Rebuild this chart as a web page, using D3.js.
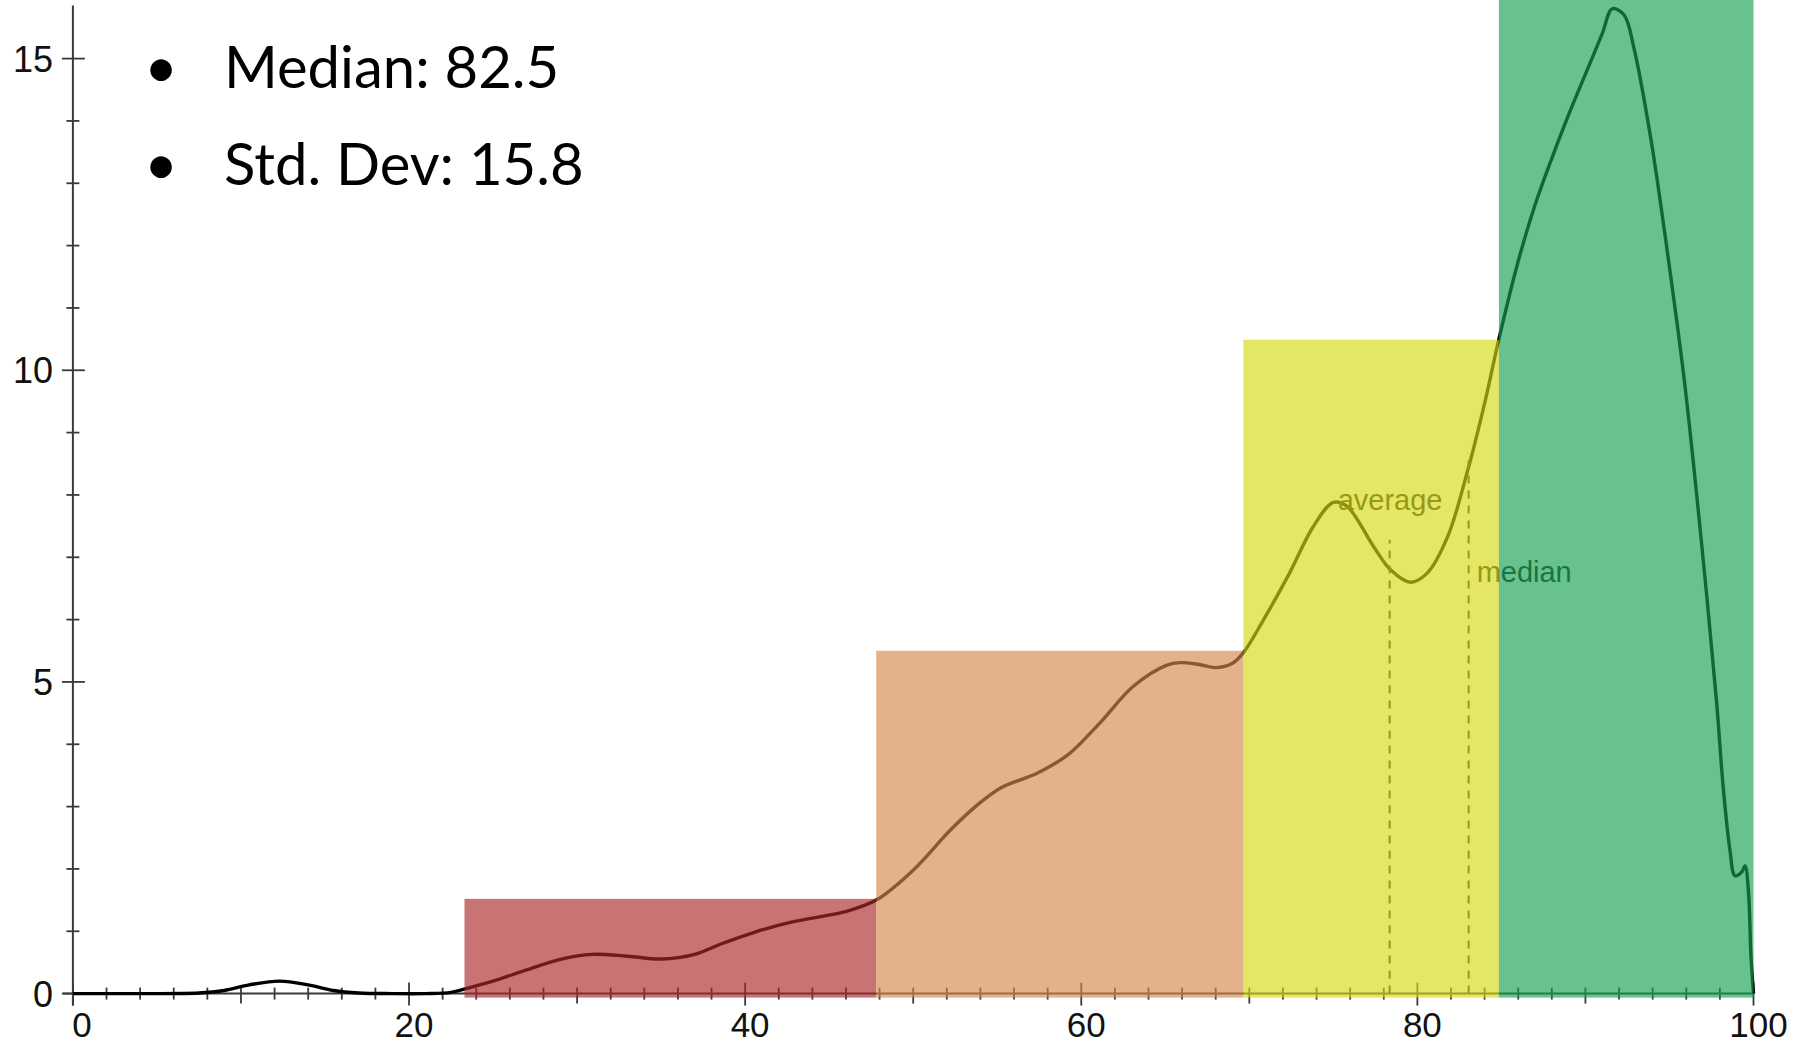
<!DOCTYPE html>
<html><head><meta charset="utf-8">
<script src="https://cdn.jsdelivr.net/npm/d3@7"></script>
<style>body{margin:0;background:#fff;overflow:hidden}</style>
</head><body>
<svg id="chart" width="1803" height="1047"></svg>
<script>
// ---- data ----
const curveX = [0,4,7.5,9,10.5,12.3,14,15.5,17,19,21,22.5,23.4,25,27,29,30.9,33,35,37,38.6,40.5,42.8,45.9,47.8,50,52.2,53.7,55.2,57.4,59.2,61.1,63.1,65.1,65.9,67,68,69,69.65,70.85,72.4,73.8,75.0,75.8,77.4,78.4,79.6,80.6,81.8,83.0,84.0,84.85,86,87,88,89,90,91,91.6,92.3,92.9,93.9,94.9,95.9,96.9,97.8,98.2,98.6,98.9,99.3,99.5,99.7,99.85,100];
const curveY = [0,0,0.01,0.05,0.14,0.2,0.14,0.05,0.01,0,0,0.02,0.08,0.2,0.38,0.55,0.63,0.6,0.555,0.63,0.8,0.98,1.15,1.31,1.5,1.98,2.62,3.0,3.3,3.54,3.83,4.34,4.93,5.27,5.31,5.28,5.23,5.3,5.47,6.0,6.75,7.49,7.88,7.82,7.17,6.8,6.6,6.75,7.33,8.4,9.47,10.5,11.75,12.65,13.4,14.1,14.75,15.4,15.8,15.7,15.15,13.7,11.85,9.8,7.25,4.69,3.3,2.3,1.89,1.95,2.05,1.63,0.6,0];
const binEdges = [23.3, 47.8, 69.65, 84.85, 100];
const binHeights = [1.52, 5.5, 10.49, 17];
const binColors = ["#ab2a2a", "#d4894d", "#d6d912", "#16a253"];
const markerNames = ["average", "median"];
const markerX = [78.35, 83.05];
const markerTop = [7.28, 8.67];
const xTickLabels = [0, 20, 40, 60, 80, 100];
const yTickLabels = [0, 5, 10, 15];
const stats = ["Median: 82.5", "Std. Dev: 15.8"];

// ---- drawing ----
const svg = d3.select("#chart");
svg.append("rect").attr("width", 1803).attr("height", 1047).attr("fill", "#fff");
const x = d3.scaleLinear().domain([0, 100]).range([72.9, 1753.5]);
const y = d3.scaleLinear().domain([0, 15]).range([993.6, 58.6]);
const axisColor = "#3a3a3a";

// axes lines
const ax = svg.append("g");
ax.append("line").attr("x1", x(-0.6)).attr("x2", x(100)).attr("y1", y(0)).attr("y2", y(0))
  .attr("stroke", axisColor).attr("stroke-width", 2);
ax.append("line").attr("x1", x(0)).attr("x2", x(0)).attr("y1", y(0) + 12).attr("y2", y(15.85))
  .attr("stroke", axisColor).attr("stroke-width", 2);
// x ticks
ax.selectAll(".xt").data(d3.range(0, 101, 2)).join("line")
  .attr("x1", d => x(d)).attr("x2", d => x(d))
  .attr("y1", d => y(0) - (d % 20 === 0 ? 11 : 6))
  .attr("y2", d => y(0) + (d % 20 === 0 ? 12 : d % 10 === 0 ? 10 : 6))
  .attr("stroke", axisColor).attr("stroke-width", 1.8);
// y ticks
ax.selectAll(".yt").data(d3.range(0, 16, 1)).join("line")
  .attr("y1", d => y(d)).attr("y2", d => y(d))
  .attr("x1", d => x(0) - (d % 5 === 0 ? 11 : 6.5))
  .attr("x2", d => x(0) + (d % 5 === 0 ? 12 : 6.5))
  .attr("stroke", axisColor).attr("stroke-width", 1.8);
// tick labels
svg.append("g").selectAll("text").data(xTickLabels).join("text")
  .attr("x", d => x(d) + (d === 0 ? 9 : 5)).attr("y", 1037)
  .attr("text-anchor", "middle").attr("font-family", "Liberation Sans, Arial, sans-serif")
  .attr("font-size", 35).attr("fill", "#111").text(d => d);
svg.append("g").selectAll("text").data(yTickLabels).join("text")
  .attr("x", 53).attr("y", d => y(d)).attr("dy", "0.36em")
  .attr("text-anchor", "end").attr("font-family", "Liberation Sans, Arial, sans-serif")
  .attr("font-size", 36).attr("fill", "#111").text(d => d);

// density curve
const line = d3.line().x(d => x(d[0])).y(d => y(d[1])).curve(d3.curveCatmullRom.alpha(0.5));
svg.append("path").datum(curveX.map((v, i) => [v, curveY[i]]))
  .attr("d", line).attr("fill", "none").attr("stroke", "#000").attr("stroke-width", 3.4)
  .attr("stroke-linejoin", "round");

// marker lines and labels
const mk = svg.append("g");
mk.selectAll("line").data(markerX).join("line")
  .attr("x1", d => x(d)).attr("x2", d => x(d))
  .attr("y1", y(0)).attr("y2", (d, i) => y(markerTop[i]))
  .attr("stroke", "#222").attr("stroke-width", 2).attr("stroke-dasharray", "8,7");
const labelDx = [-52, 8];
const labelDy = [-30, 129];
mk.selectAll("text").data(markerNames).join("text")
  .attr("x", (d, i) => x(markerX[i]) + labelDx[i])
  .attr("y", (d, i) => y(markerTop[i]) + labelDy[i])
  .attr("font-family", "Liberation Sans, Arial, sans-serif").attr("font-size", 29)
  .attr("fill", "#222").text(d => d);

// bins overlay
svg.append("g").selectAll("rect").data(binHeights).join("rect")
  .attr("x", (d, i) => x(binEdges[i]))
  .attr("width", (d, i) => x(binEdges[i + 1]) - x(binEdges[i]))
  .attr("y", d => y(d))
  .attr("height", d => y(0) - y(d) + 4)
  .attr("fill", (d, i) => binColors[i]).attr("fill-opacity", 0.65);

// stats text
const st = svg.append("g");
stats.forEach((s, i) => {
  st.append("text").attr("x", 161).attr("y", 88 + i * 97).attr("text-anchor", "middle")
    .attr("font-family", "Lato, 'Open Sans', sans-serif").attr("font-size", 58).attr("fill", "#000").text("•");
  st.append("text").attr("x", 224).attr("y", 88 + i * 97)
    .attr("font-family", "Lato, 'Open Sans', sans-serif").attr("font-size", 58).attr("fill", "#000").text(s);
});
</script>
</body></html>
